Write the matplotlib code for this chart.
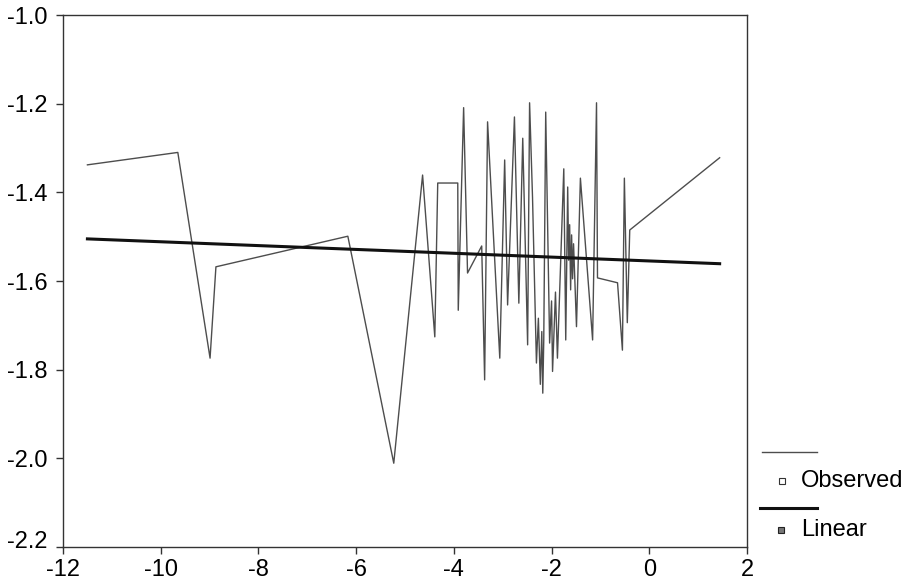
import matplotlib
matplotlib.use('Agg')
import matplotlib.pyplot as plt
import matplotlib.transforms as mtransforms
from matplotlib.lines import Line2D

plt.rcParams['font.family'] = ['Liberation Sans', 'DejaVu Sans']

# observed series (x sorted)
obs_x = [-11.50, -9.65, -8.99, -8.87, -6.17, -5.23, -4.64, -4.39, -4.33, -3.92,
         -3.91, -3.80, -3.72, -3.43, -3.37, -3.31, -3.06, -2.96, -2.90, -2.76,
         -2.67, -2.59, -2.49, -2.45, -2.39, -2.31, -2.27, -2.23, -2.20, -2.18,
         -2.16, -2.12, -2.04, -2.00, -1.98, -1.92, -1.88, -1.75, -1.71, -1.67,
         -1.65, -1.63, -1.61, -1.59, -1.57, -1.55, -1.49, -1.41, -1.16, -1.08,
         -1.06, -0.65, -0.55, -0.51, -0.45, -0.40, 1.44]
obs_y = [-1.338, -1.310, -1.774, -1.568, -1.499, -2.011, -1.361, -1.726, -1.379, -1.379,
         -1.666, -1.209, -1.582, -1.521, -1.823, -1.241, -1.774, -1.327, -1.654, -1.230,
         -1.650, -1.278, -1.744, -1.198, -1.411, -1.785, -1.684, -1.833, -1.714, -1.853,
         -1.734, -1.219, -1.740, -1.645, -1.804, -1.625, -1.774, -1.347, -1.733, -1.388,
         -1.553, -1.473, -1.620, -1.496, -1.595, -1.516, -1.703, -1.368, -1.733, -1.198,
         -1.593, -1.604, -1.756, -1.368, -1.694, -1.485, -1.322]

# linear fit endpoints
lin_x = [-11.50, 1.44]
lin_y = [-1.505, -1.561]

xticks = [-12, -10, -8, -6, -4, -2, 0, 2]
yticks = [-1.0, -1.2, -1.4, -1.6, -1.8, -2.0, -2.2]

fig = plt.figure(figsize=(9.18, 5.85), dpi=100)
ax = fig.add_axes([63/918, 38/585, (747-63)/918, (547-15)/585])

ax.plot(obs_x, obs_y, '-', color='#4d4d4d', linewidth=1.0)
ax.plot(lin_x, lin_y, '-', color='#111111', linewidth=2.2)

ax.set_xlim(-12, 2)
ax.set_ylim(-2.2, -1.0)
ax.set_xticks(xticks)
ax.set_xticklabels([str(t) for t in xticks])
ax.set_yticks(yticks)
ax.set_yticklabels(['%.1f' % t for t in yticks])
ax.tick_params(direction='out', length=5, width=1, color='#333333',
               labelsize=17, pad=4)
ax.tick_params(axis='y', pad=6)
for s in ax.spines.values():
    s.set_color('#333333')
    s.set_linewidth(1)

# bottom y label sits a little above the corner in the original
lab = ax.get_yticklabels()[-1]
lab.set_transform(lab.get_transform() + mtransforms.ScaledTranslation(0, 0.08, fig.dpi_scale_trans))

# legend drawn outside, line above marker as in the original
fs = 17
fig.add_artist(Line2D([762/918, 817/918], [1-452/585, 1-452/585],
                      transform=fig.transFigure, color='#4d4d4d', linewidth=1.0))
fig.add_artist(Line2D([782/918], [1-481/585], transform=fig.transFigure,
                      marker='s', markersize=4, markerfacecolor='white',
                      markeredgecolor='#333333', markeredgewidth=0.8, linestyle='none'))
fig.text(801/918, 1-481/585, 'Observed', fontsize=fs, va='center', ha='left')
fig.add_artist(Line2D([760/918, 817/918], [1-508/585, 1-508/585],
                      transform=fig.transFigure, color='#111111', linewidth=2.2))
fig.add_artist(Line2D([781/918], [1-530/585], transform=fig.transFigure,
                      marker='s', markersize=4, markerfacecolor='#777777',
                      markeredgecolor='#222222', markeredgewidth=0.8, linestyle='none'))
fig.text(801/918, 1-530/585, 'Linear', fontsize=fs, va='center', ha='left')

plt.savefig('out.png', dpi=100)
